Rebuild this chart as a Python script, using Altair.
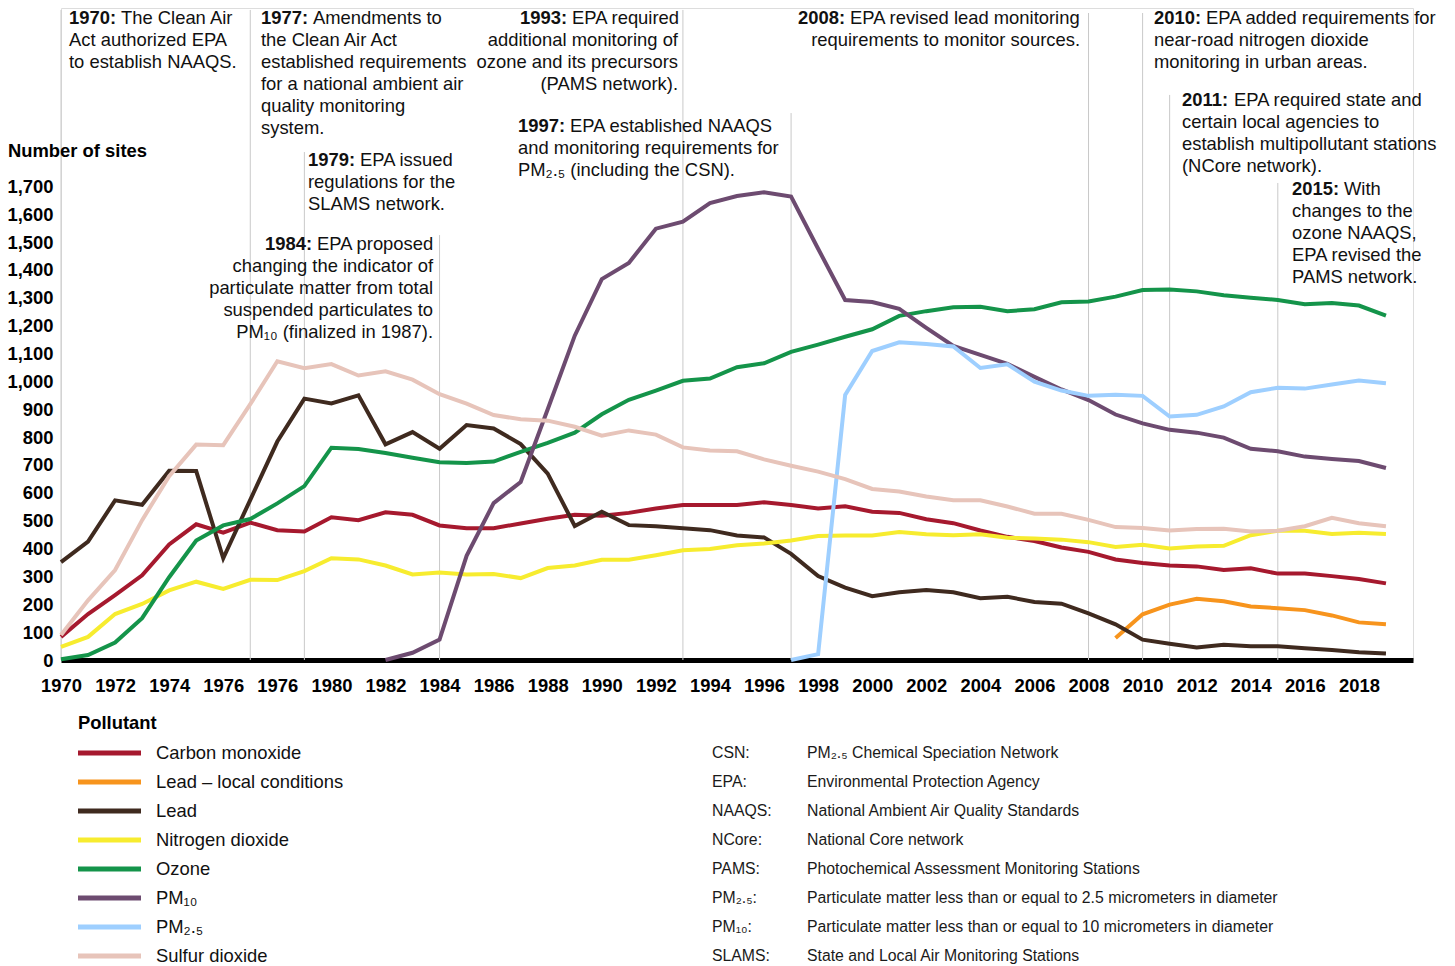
import altair as alt
import pandas as pd

FONT = "Liberation Sans"
FS = 18.4

# ---------------- data ----------------
years = list(range(1970, 2020))
carbon_monoxide = [83, 165, 233, 304, 415, 487, 457, 493, 466, 461,
                   512, 502, 530, 521, 483, 473, 473, 490, 507, 521,
                   518, 528, 544, 556, 556, 556, 566, 556, 544, 552,
                   532, 528, 505, 491, 465, 442, 427, 404, 388, 361,
                   348, 339, 336, 323, 329, 310, 310, 301, 291, 275]
lead = [351, 425, 573, 557, 679, 678, 365, 575, 784, 938,
        921, 950, 774, 818, 758, 843, 831, 775, 669, 481,
        532, 484, 480, 473, 466, 447, 440, 381, 301, 260,
        229, 243, 251, 243, 222, 227, 208, 202, 167, 128,
        73, 58, 45, 55, 49, 49, 42, 36, 28, 23]
nitrogen_dioxide = [47, 83, 165, 201, 250, 281, 255, 288, 287, 319,
                    365, 361, 339, 307, 314, 307, 309, 294, 330, 339,
                    360, 360, 376, 394, 398, 412, 418, 429, 445, 447,
                    447, 459, 451, 448, 451, 439, 436, 432, 423, 406,
                    414, 400, 407, 410, 448, 464, 464, 452, 457, 452]
ozone = [3, 18, 63, 150, 297, 429, 483, 506, 562, 624,
         762, 757, 743, 726, 710, 707, 712, 747, 779, 816,
         882, 934, 967, 1002, 1010, 1051, 1065, 1106, 1132, 1160,
         1187, 1235, 1252, 1266, 1268, 1252, 1259, 1284, 1287, 1304,
         1328, 1330, 1323, 1309, 1300, 1292, 1277, 1281, 1272, 1236]
sulfur_dioxide = [90, 214, 323, 502, 660, 773, 771, 918, 1072, 1047,
                  1062, 1021, 1036, 1006, 954, 920, 879, 864, 859, 837,
                  805, 824, 809, 763, 752, 749, 720, 697, 676, 649,
                  614, 605, 587, 573, 573, 551, 525, 525, 503, 477,
                  474, 465, 470, 471, 461, 464, 480, 510, 491, 480]
pm10_years = list(range(1982, 2020))
pm10 = [0, 26, 73, 374, 563, 639, 900, 1164, 1367, 1425,
        1548, 1573, 1640, 1665, 1679, 1663, 1476, 1292, 1285, 1260,
        1192, 1127, 1095, 1063, 1016, 971, 933, 881, 849, 826,
        816, 798, 758, 749, 730, 721, 714, 689]
pm25_years = list(range(1997, 2020))
pm25 = [0, 21, 951, 1109, 1140, 1134, 1125, 1048, 1061, 999,
        967, 948, 952, 948, 874, 880, 910, 961, 977, 974,
        989, 1003, 993]
lead_lc_years = list(range(2009, 2020))
lead_lc = [79, 164, 199, 220, 211, 192, 186, 179, 160, 135, 128]

pollutants = ["Carbon monoxide", "Lead – local conditions", "Lead",
              "Nitrogen dioxide", "Ozone", "PM₁₀", "PM₂.₅", "Sulfur dioxide"]
colors = ["#a6192e", "#f7941d", "#3f2a1f", "#f7ec2f",
          "#14944a", "#6d4b70", "#9ecfff", "#e7c4ba"]

x_ticks = list(range(1970, 2019, 2))
y_ticks = list(range(0, 1701, 100))

event_years = [1970, 1977, 1979, 1984, 1993, 1997, 2008, 2010, 2011, 2015]
event_tops = [2333, 2333, 1823, 1525, 2333, 1963, 2322, 2322, 2028, 1712]

gloss_abbr = ["CSN:", "EPA:", "NAAQS:", "NCore:", "PAMS:", "PM₂.₅:", "PM₁₀:", "SLAMS:"]
gloss_def = ["PM₂.₅ Chemical Speciation Network",
             "Environmental Protection Agency",
             "National Ambient Air Quality Standards",
             "National Core network",
             "Photochemical Assessment Monitoring Stations",
             "Particulate matter less than or equal to 2.5 micrometers in diameter",
             "Particulate matter less than or equal to 10 micrometers in diameter",
             "State and Local Air Monitoring Stations"]

# ---------------- tables ----------------
series = [
    ("Carbon monoxide", years, carbon_monoxide),
    ("Lead – local conditions", lead_lc_years, lead_lc),
    ("Lead", years, lead),
    ("Nitrogen dioxide", years, nitrogen_dioxide),
    ("Ozone", years, ozone),
    ("PM₁₀", pm10_years, pm10),
    ("PM₂.₅", pm25_years, pm25),
    ("Sulfur dioxide", years, sulfur_dioxide),
]
rows = []
for name, yrs, vals in series:
    for yr, v in zip(yrs, vals):
        rows.append({"pollutant": name, "year": yr, "sites": v})
df = pd.DataFrame(rows)

events = pd.DataFrame({"year": event_years, "top": event_tops, "zero": [0] * len(event_years)})
legend_df = pd.DataFrame({"pollutant": pollutants, "idx": list(range(len(pollutants)))})
gloss_df = pd.DataFrame({"abbr": gloss_abbr, "definition": gloss_def, "idx": list(range(len(gloss_abbr)))})

W, H = 1352, 652
YMAX = 2340
X0, Y0 = 61, 8  # page position of plot origin

xscale = alt.Scale(domain=[1970, 2020], nice=False, zero=False)
yscale = alt.Scale(domain=[0, YMAX], nice=False)
color = alt.Color("pollutant:N", scale=alt.Scale(domain=pollutants, range=colors), legend=None)
rowscale = alt.Scale(domain=[0, 7], range=[753 - Y0, 956 - Y0])

# event rules
rules = alt.Chart(events).mark_rule(color="#c9c9c9", strokeWidth=1).encode(
    x=alt.X("year:Q", scale=xscale),
    y=alt.Y("top:Q", scale=yscale, axis=None),
    y2="zero:Q",
)

lines = alt.Chart(df).mark_line(strokeWidth=4).encode(
    x=alt.X("year:Q", scale=xscale, title=None,
            axis=alt.Axis(values=x_ticks, labelExpr="datum.value == 1978 ? '1976' : format(datum.value, 'd')",
                          labelFontSize=FS, labelFontWeight="bold", labelColor="black", labelFont=FONT,
                          labelFlush=False, labelPadding=16, ticks=False, grid=False,
                          domainColor="black", domainWidth=5)),
    y=alt.Y("sites:Q", scale=yscale, title=None,
            axis=alt.Axis(values=y_ticks, format=",d", labelFontSize=FS, labelFontWeight="bold",
                          labelColor="black", labelFont=FONT, labelPadding=8, ticks=False,
                          grid=False, domain=False, labelOverlap=False)),
    color=color,
    detail="pollutant:N",
)

one = pd.DataFrame({"a": [0]})


def txt(text, px, pc, align="left", bold=False, size=FS, col="#111111"):
    """text whose first line is centred at page y = pc"""
    return alt.Chart(one).mark_text(
        text=text, align=align, baseline="top", font=FONT, fontSize=size,
        fontWeight="bold" if bold else "normal", color=col, lineBreak="\n", lineHeight=22,
    ).encode(x=alt.value(px - X0), y=alt.value(pc - 8.5 - Y0))


annos = []
# (head_x, first_line_x, rest_x, align of rest, centre y, head, first line, other lines)
blocks = [
    (69, 121, 69, "left", 17, "1970:", "The Clean Air", ["Act authorized EPA", "to establish NAAQS."]),
    (261, 313, 261, "left", 17, "1977:", "Amendments to",
     ["the Clean Air Act", "established requirements", "for a national ambient air",
      "quality monitoring", "system."]),
    (308, 360, 308, "left", 159, "1979:", "EPA issued", ["regulations for the", "SLAMS network."]),
    (265, 317, 433, "right", 243, "1984:", "EPA proposed",
     ["changing the indicator of", "particulate matter from total",
      "suspended particulates to", "PM₁₀ (finalized in 1987)."]),
    (520, 572, 678, "right", 17, "1993:", "EPA required",
     ["additional monitoring of", "ozone and its precursors", "(PAMS network)."]),
    (518, 570, 518, "left", 125, "1997:", "EPA established NAAQS",
     ["and monitoring requirements for", "PM₂.₅ (including the CSN)."]),
    (798, 850, 1080, "right", 17, "2008:", "EPA revised lead monitoring",
     ["requirements to monitor sources."]),
    (1154, 1206, 1154, "left", 17, "2010:", "EPA added requirements for",
     ["near-road nitrogen dioxide", "monitoring in urban areas."]),
    (1182, 1234, 1182, "left", 99, "2011:", "EPA required state and",
     ["certain local agencies to", "establish multipollutant stations", "(NCore network)."]),
    (1292, 1344, 1292, "left", 188, "2015:", "With",
     ["changes to the", "ozone NAAQS,", "EPA revised the", "PAMS network."]),
]
for hx, fx, rx, ralign, cy, head, first, rest in blocks:
    annos.append(txt(head, hx, cy, bold=True))
    annos.append(txt(first, fx, cy))
    annos.append(txt("\n".join(rest), rx, cy + 22, align=ralign))

ytitle = txt("Number of sites", 8, 150, bold=True, col="black")

# legend (drawn with the chart's own colour scale)
leg_title = txt("Pollutant", 78, 722, bold=True, col="black")
leg_rules = alt.Chart(legend_df).mark_rule(strokeWidth=5).encode(
    x=alt.value(78 - X0), x2=alt.value(141 - X0),
    y=alt.Y("idx:Q", scale=rowscale, axis=None),
    color=color,
)
leg_text = alt.Chart(legend_df).mark_text(align="left", baseline="middle", font=FONT,
                                          fontSize=FS, color="#111111").encode(
    x=alt.value(156 - X0),
    y=alt.Y("idx:Q", scale=rowscale, axis=None),
    text="pollutant:N",
)

gl_abbr = alt.Chart(gloss_df).mark_text(align="left", baseline="middle", font=FONT,
                                        fontSize=15.8, color="#1a1a1a").encode(
    x=alt.value(712 - X0),
    y=alt.Y("idx:Q", scale=rowscale, axis=None),
    text="abbr:N",
)
gl_def = alt.Chart(gloss_df).mark_text(align="left", baseline="middle", font=FONT,
                                       fontSize=15.8, color="#1a1a1a").encode(
    x=alt.value(807 - X0),
    y=alt.Y("idx:Q", scale=rowscale, axis=None),
    text="definition:N",
)

chart = alt.layer(
    rules, lines, *annos, ytitle, leg_title, leg_rules, leg_text, gl_abbr, gl_def
).resolve_scale(y="independent").properties(
    width=W, height=H,
    autosize=alt.AutoSizeParams(type="none"),
    padding={"left": 53, "top": 0, "right": 34, "bottom": 306},
).configure_view(stroke=None).configure(font=FONT)

chart.save("out.html", embed_options={"renderer": "svg", "actions": False})
